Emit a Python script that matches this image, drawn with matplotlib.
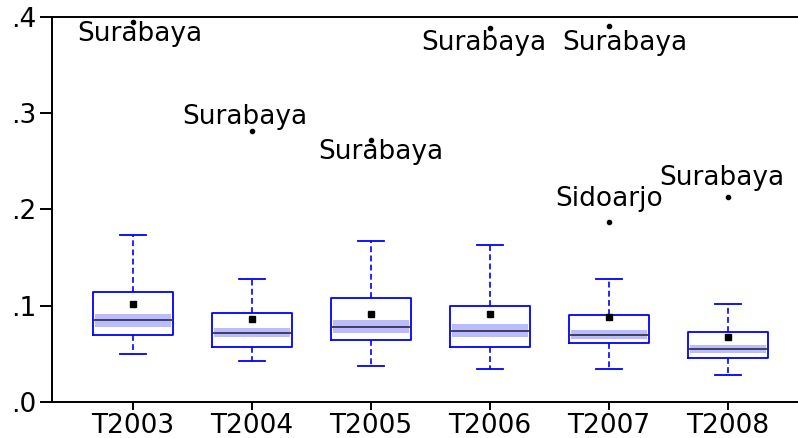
import matplotlib
matplotlib.use("Agg")
import matplotlib.pyplot as plt
from matplotlib.patches import Rectangle
from matplotlib.ticker import FuncFormatter

plt.rcParams['font.family'] = ['DejaVu Sans']

# box plot summary values
categories = ["T2003", "T2004", "T2005", "T2006", "T2007", "T2008"]
whisk_lo = [0.0495, 0.0423, 0.0377, 0.0343, 0.0343, 0.0280]
q1 = [0.0693, 0.0575, 0.0641, 0.0575, 0.0610, 0.0457]
median = [0.0849, 0.0714, 0.0776, 0.0738, 0.0699, 0.0548]
q3 = [0.1146, 0.0925, 0.1077, 0.1001, 0.0904, 0.0724]
whisk_hi = [0.1740, 0.1275, 0.1670, 0.1628, 0.1278, 0.1018]
means = [0.1020, 0.0866, 0.0918, 0.0918, 0.0883, 0.0672]
ci_lo = [0.0782, 0.0672, 0.0720, 0.0679, 0.0658, 0.0512]
ci_hi = [0.0911, 0.0766, 0.0852, 0.0810, 0.0748, 0.0589]

# outliers: (category index, value, label)
out_cat = [0, 1, 2, 3, 4, 4, 5]
out_val = [0.395, 0.282, 0.272, 0.389, 0.391, 0.187, 0.213]
out_lab = ["Surabaya", "Surabaya", "Surabaya", "Surabaya", "Surabaya", "Sidoarjo", "Surabaya"]

# label offsets in pixels (layout only)
lab_dx = [7, -7, 10, -6, 16, 0, -6]
lab_dy = [-12, 14, -12, -15, -17, 23, 19]

blue = "#0000FF"
fs = 19

fig = plt.figure(figsize=(7.98, 4.38), dpi=100)
ax = fig.add_axes([0.0652, 0.0822, 0.9348, 0.879])

stats = []
for i in range(len(categories)):
    fl = [v for c, v in zip(out_cat, out_val) if c == i]
    stats.append(dict(med=median[i], q1=q1[i], q3=q3[i], whislo=whisk_lo[i],
                      whishi=whisk_hi[i], mean=means[i], fliers=fl))

pos = list(range(1, len(categories) + 1))

# median confidence band
for p, lo, hi in zip(pos, ci_lo, ci_hi):
    ax.add_patch(Rectangle((p - 0.32, lo), 0.64, hi - lo, facecolor="#BBBBFF",
                           edgecolor="none", zorder=1))

ax.bxp(stats, positions=pos, widths=0.667, capwidths=0.22, showmeans=True,
       boxprops=dict(color=blue, linewidth=1.3),
       whiskerprops=dict(color=blue, linewidth=1.2, linestyle=(0, (3.5, 2))),
       capprops=dict(color=blue, linewidth=1.3),
       medianprops=dict(color="#2A2A40", linewidth=1.2),
       meanprops=dict(marker="s", markerfacecolor="black", markeredgecolor="black",
                      markersize=4),
       flierprops=dict(marker="o", markerfacecolor="black", markeredgecolor="black",
                       markersize=3),
       zorder=2)

for c, v, lab, dx, dy in zip(out_cat, out_val, out_lab, lab_dx, lab_dy):
    ax.annotate(lab, (pos[c], v), xytext=(dx, dy), textcoords="offset pixels",
                ha="center", va="center", fontsize=fs)

ax.set_xlim(0.319, 6.588)
ax.set_ylim(0, 0.4)
ax.set_xticks(pos)
ax.set_xticklabels(categories)
ax.set_yticks([0, 0.1, 0.2, 0.3, 0.4])
ax.yaxis.set_major_formatter(FuncFormatter(lambda v, _: ("%.1f" % v).lstrip("0")))

for s in ["left", "bottom", "top"]:
    ax.spines[s].set_linewidth(1.4)
ax.spines["right"].set_visible(False)
ax.tick_params(axis="y", length=8.5, width=1.4, labelsize=fs, pad=3)
ax.tick_params(axis="x", length=6, width=1.4, labelsize=fs, pad=2)

fig.savefig("out.png", dpi=100)
